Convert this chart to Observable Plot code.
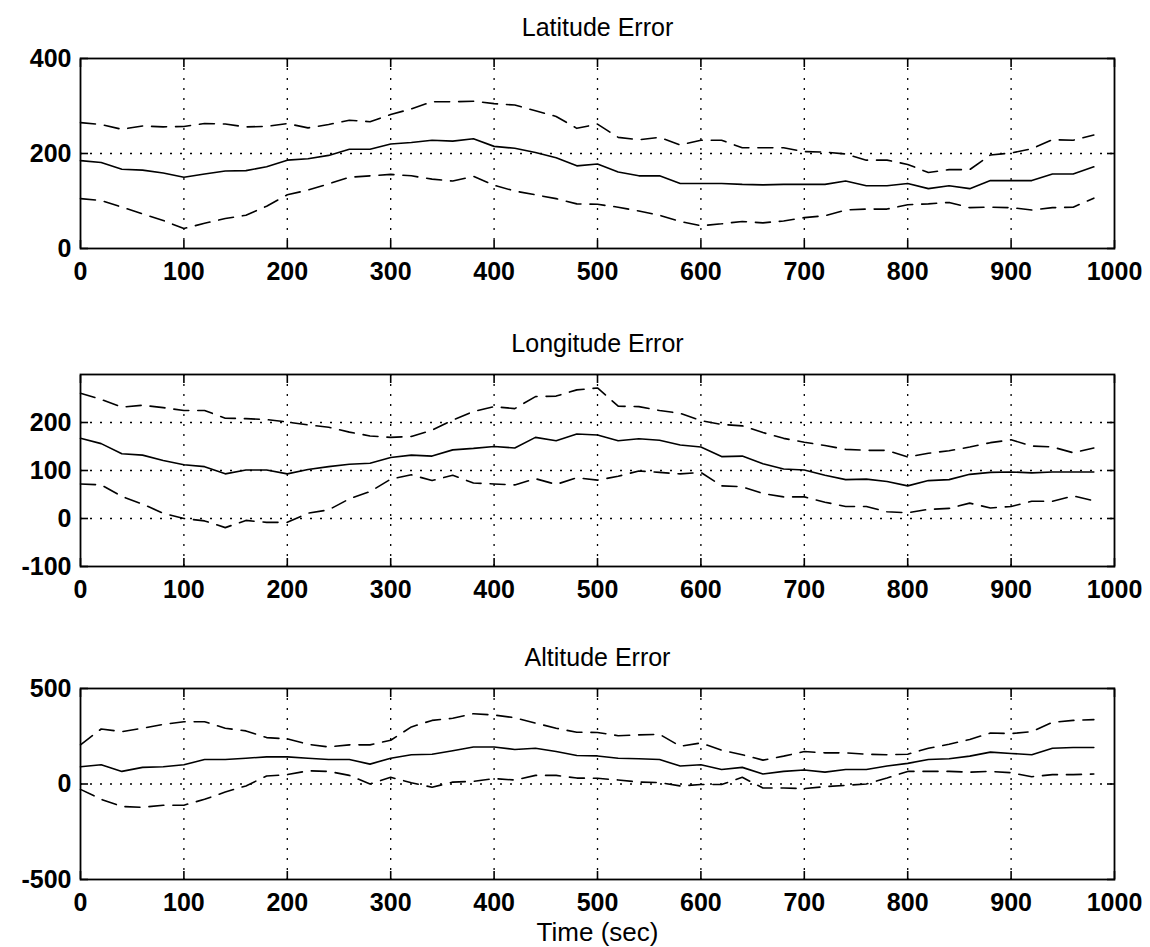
<!DOCTYPE html>
<html><head><meta charset="utf-8">
<script src="https://cdn.jsdelivr.net/npm/d3@7"></script>
<script src="https://cdn.jsdelivr.net/npm/@observablehq/plot@0.6"></script>
<style>
body{margin:0;background:#fff;}
#chart{position:relative;width:1150px;height:947px;background:#fff;overflow:hidden;}
#chart svg{position:absolute;left:0;}
</style></head><body><div id="chart"></div>
<script>
// Time axis (sec)
const time = [0,20,40,60,80,100,120,140,160,180,200,220,240,260,280,300,320,340,360,380,400,420,440,460,480,
              500,520,540,560,580,600,620,640,660,680,700,720,740,760,780,800,820,840,860,880,900,920,940,960,980];
const xTicks = [0,100,200,300,400,500,600,700,800,900,1000];
const xGrid = [100,200,300,400,500,600,700,800,900];

// Latitude Error
const latMean  = [185,181,167,165,159,150,157,163,164,172,186,189,196,209,209,220,223,228,226,231,215,211,202,191,174,
                  178,161,153,153,137,137,137,135,134,135,135,135,142,132,132,137,126,132,126,143,143,143,157,157,172];
const latUpper = [265,261,251,258,256,257,263,262,256,257,263,254,261,270,267,282,294,309,309,310,305,302,290,278,253,
                  262,234,229,234,218,228,228,212,212,212,204,203,199,186,186,177,160,166,166,197,201,210,229,228,239];
const latLower = [105,101,87,73,59,42,53,63,70,89,113,123,136,150,153,156,153,146,142,152,133,121,113,105,94,
                  93,87,79,70,57,48,52,57,54,58,65,69,81,83,83,92,94,97,86,87,86,81,86,87,106];
const latTicks = [0,200,400];
const latGrid = [200];

// Longitude Error
const lonMean  = [167,156,135,132,121,112,108,93,101,101,93,102,108,113,115,127,132,130,143,146,150,147,169,162,176,
                  174,162,166,163,153,149,129,130,114,103,101,90,81,82,77,68,79,81,92,96,97,95,97,97,97];
const lonUpper = [261,248,232,236,231,225,225,209,208,206,201,195,190,180,172,169,171,184,205,223,233,229,254,255,268,
                  272,234,233,225,219,204,196,193,179,167,159,152,144,142,142,128,136,141,149,158,164,151,149,137,147];
const lonLower = [72,70,46,30,11,0,-5,-19,-4,-8,-8,11,18,41,56,82,91,79,90,74,72,70,83,71,85,
                  80,88,99,96,93,96,68,66,52,45,45,34,25,25,14,12,19,21,32,22,25,36,36,47,37];
const lonTicks = [-100,0,100,200];
const lonGrid = [0,100,200];

// Altitude Error
const altMean  = [90,101,66,87,90,101,128,128,135,142,142,135,128,128,104,135,153,156,174,194,194,181,187,170,149,
                  147,135,132,128,94,101,76,87,52,66,73,62,76,76,94,108,128,132,146,167,160,153,187,191,191];
const altUpper = [205,288,274,292,312,326,326,292,278,243,236,208,194,205,205,229,299,333,344,368,361,347,319,292,271,
                  270,253,257,260,198,215,177,153,125,146,170,163,163,156,153,156,187,208,233,267,264,274,323,333,337];
const altLower = [-28,-80,-118,-122,-111,-111,-80,-42,-10,42,49,69,66,45,0,35,7,-17,10,14,28,21,45,45,31,
                  30,21,10,7,-10,-3,-3,35,-21,-21,-24,-14,-7,0,31,66,66,66,62,66,59,38,49,49,52];
const altTicks = [-500,0,500];
const altGrid = [0];

const titles = ["Latitude Error", "Longitude Error", "Altitude Error"];
const xLabel = "Time (sec)";

const FONT = "'Liberation Sans', Arial, Helvetica, sans-serif";
const rows = arr => time.map((t, i) => ({t, v: arr[i]}));
const fmt = d => String(d);

function panel({title, mean, upper, lower, yDomain, yTicks, yGrid, top, height, mt, mb, label}) {
  const dotted = {stroke: "#000", strokeOpacity: 1, strokeWidth: 1.3, strokeDasharray: "2,8"};
  const dashed = {x: "t", y: "v", stroke: "#000", strokeWidth: 1.6, strokeDasharray: "15,9"};
  const marks = [
    Plot.gridX(xGrid, dotted),
    Plot.gridY(yGrid, dotted),
    Plot.line(rows(upper), dashed),
    Plot.line(rows(lower), dashed),
    Plot.line(rows(mean), {x: "t", y: "v", stroke: "#000", strokeWidth: 1.6}),
    Plot.frame({stroke: "#000", strokeWidth: 1.8}),
    Plot.axisX(xTicks, {anchor: "bottom", tickSize: 0, tickPadding: 14, fontSize: 25, fontWeight: "bold", tickFormat: fmt, label: null}),
    Plot.axisX(xTicks, {anchor: "bottom", tickSize: -8, strokeWidth: 1.6, fill: "none", label: null}),
    Plot.axisX(xTicks, {anchor: "top", tickSize: -8, strokeWidth: 1.6, fill: "none", label: null}),
    Plot.axisY(yTicks, {anchor: "left", tickSize: 0, tickPadding: 9, fontSize: 25, fontWeight: "bold", tickFormat: fmt, label: null}),
    Plot.axisY(yTicks, {anchor: "left", tickSize: -8, strokeWidth: 1.6, fill: "none", label: null}),
    Plot.axisY(yTicks, {anchor: "right", tickSize: -8, strokeWidth: 1.6, fill: "none", label: null}),
    Plot.text([title], {frameAnchor: "top", dy: -31, fontSize: 25, fill: "#000", lineAnchor: "middle"})
  ];
  if (label) marks.push(Plot.text([label], {frameAnchor: "bottom", dy: 53, fontSize: 26, fill: "#000", lineAnchor: "middle"}));
  const svg = Plot.plot({
    width: 1150, height,
    marginLeft: 80, marginRight: 36, marginTop: mt, marginBottom: mb,
    x: {domain: [0, 1000]},
    y: {domain: yDomain},
    style: {fontFamily: FONT, color: "#000", background: "transparent", overflow: "visible"},
    marks
  });
  svg.style.top = top + "px";
  document.getElementById("chart").appendChild(svg);
}

panel({title: titles[0], mean: latMean, upper: latUpper, lower: latLower, yDomain: [0, 400], yTicks: latTicks, yGrid: latGrid,
       top: 0, height: 318, mt: 58, mb: 70});
panel({title: titles[1], mean: lonMean, upper: lonUpper, lower: lonLower, yDomain: [-100, 300], yTicks: lonTicks, yGrid: lonGrid,
       top: 318, height: 318, mt: 56, mb: 70});
panel({title: titles[2], mean: altMean, upper: altUpper, lower: altLower, yDomain: [-500, 500], yTicks: altTicks, yGrid: altGrid,
       top: 636, height: 311, mt: 52, mb: 68, label: xLabel});
</script></body></html>
